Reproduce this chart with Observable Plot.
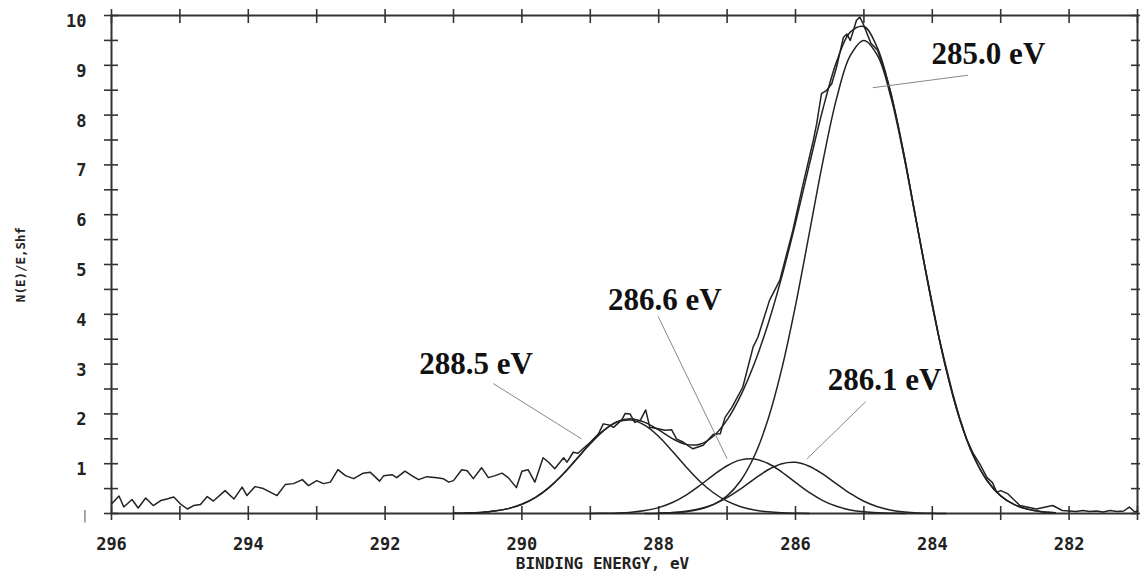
<!DOCTYPE html>
<html><head><meta charset="utf-8">
<script src="https://cdn.jsdelivr.net/npm/d3@7"></script>
<script src="https://cdn.jsdelivr.net/npm/@observablehq/plot@0.6"></script>
<style>
html,body{margin:0;padding:0;background:#fff;}
</style>
</head><body><div id="chart"></div>
<script>
// Measured spectrum (binding energy, eV ; intensity)
const spectrumE = [296.00,295.89,295.82,295.70,295.61,295.50,295.39,295.28,295.19,295.09,294.99,294.89,294.80,294.70,294.60,294.51,294.34,294.21,294.09,294.02,293.90,293.78,293.58,293.46,293.34,293.21,293.12,293.00,292.90,292.80,292.69,292.58,292.46,292.32,292.22,292.08,292.02,291.90,291.83,291.71,291.61,291.51,291.39,291.24,291.15,291.07,291.00,290.88,290.80,290.71,290.59,290.49,290.39,290.29,290.20,290.08,290.00,289.91,289.81,289.69,289.61,289.52,289.39,289.34,289.25,289.18,289.00,288.88,288.81,288.71,288.66,288.54,288.49,288.42,288.35,288.27,288.19,288.13,288.01,287.91,287.81,287.74,287.64,287.50,287.35,287.20,287.10,287.03,286.93,286.77,286.62,286.55,286.38,286.23,286.04,285.90,285.74,285.69,285.62,285.55,285.47,285.40,285.30,285.25,285.20,285.16,285.11,285.06,285.01,284.90,284.80,284.70,284.60,284.50,284.40,284.30,284.20,284.10,284.00,283.90,283.80,283.70,283.60,283.50,283.40,283.30,283.20,283.12,283.06,283.00,282.90,282.72,282.48,282.24,282.10,282.00,281.90,281.80,281.70,281.60,281.50,281.40,281.30,281.20,281.12,281.04,281.00];
const spectrumY = [0.19,0.35,0.13,0.28,0.11,0.31,0.16,0.26,0.29,0.33,0.19,0.09,0.16,0.18,0.34,0.25,0.46,0.29,0.53,0.36,0.54,0.50,0.36,0.58,0.60,0.68,0.56,0.66,0.60,0.63,0.88,0.76,0.70,0.81,0.83,0.65,0.76,0.78,0.72,0.85,0.76,0.68,0.74,0.72,0.70,0.63,0.66,0.88,0.86,0.70,0.92,0.72,0.76,0.81,0.72,0.52,0.85,0.88,0.63,1.12,1.03,0.90,1.12,1.03,1.23,1.21,1.43,1.60,1.80,1.77,1.73,1.88,2.01,2.00,1.83,1.87,2.08,1.73,1.70,1.67,1.68,1.50,1.43,1.30,1.37,1.59,1.60,1.93,2.13,2.54,3.34,3.54,4.28,4.68,5.68,6.55,7.49,7.83,8.43,8.49,8.63,8.96,9.56,9.63,9.50,9.67,9.90,9.97,9.83,9.45,9.30,8.90,8.42,7.80,7.12,6.35,5.62,4.90,4.22,3.52,2.95,2.40,1.92,1.50,1.20,0.98,0.72,0.62,0.43,0.46,0.40,0.16,0.09,0.16,0.06,0.05,0.04,0.06,0.04,0.05,0.03,0.06,0.04,0.05,0.13,0.03,0.05];

// Fitted curves sampled on a common energy grid
const fitE = [291.0,290.8,290.6,290.4,290.2,290.0,289.8,289.6,289.4,289.2,289.0,288.8,288.6,288.4,288.2,288.0,287.8,287.6,287.4,287.2,287.0,286.8,286.6,286.4,286.2,286.0,285.8,285.6,285.4,285.2,285.0,284.8,284.6,284.4,284.2,284.0,283.8,283.6,283.4,283.2,283.0,282.8,282.6,282.4,282.2];
const peak2885 = [0.004,0.009,0.022,0.048,0.098,0.185,0.324,0.525,0.787,1.093,1.404,1.670,1.840,1.875,1.770,1.547,1.251,0.936,0.649,0.417,0.247,0.136,0.069,0.033,0.014,0.006,0.002,null,null,null,null,null,null,null,null,null,null,null,null,null,null,null,null,null,null];
const peak2866 = [null,null,null,null,null,null,null,null,null,null,0.001,0.004,0.010,0.025,0.058,0.118,0.220,0.370,0.562,0.772,0.959,1.077,1.093,1.004,0.833,0.625,0.424,0.260,0.144,0.072,0.033,0.013,0.005,0.002,null,null,null,null,null,null,null,null,null,null,null];
const peak2861 = [null,null,null,null,null,null,null,null,null,null,null,null,null,null,0.002,0.007,0.019,0.045,0.096,0.184,0.318,0.496,0.695,0.878,1.000,1.027,0.950,0.791,0.595,0.402,0.245,0.135,0.067,0.030,0.012,0.004,0.001,null,null,null,null,null,null,null,null];
const peak2850 = [null,null,null,null,null,null,null,null,null,null,null,null,null,null,null,0.006,0.015,0.037,0.084,0.178,0.355,0.663,1.159,1.897,2.909,4.176,5.615,7.067,8.330,9.193,9.500,9.193,8.330,7.067,5.615,4.176,2.909,1.897,1.159,0.663,0.355,0.178,0.084,0.037,0.015];
const envelope = [0.004,0.009,0.022,0.048,0.098,0.185,0.324,0.525,0.787,1.093,1.405,1.674,1.850,1.900,1.830,1.678,1.505,1.388,1.391,1.551,1.879,2.372,3.016,3.812,4.756,5.834,6.991,8.118,9.069,9.667,9.778,9.341,8.402,7.099,5.627,4.180,2.910,1.897,1.159,0.663,0.355,0.178,0.084,0.037,0.015];

// Axis ticks and labels
const xMinorTicks = [296,295,294,293,292,291,290,289,288,287,286,285,284,283,282,281];
const xTickLabels = [296,294,292,290,288,286,284,282];
const yMinorTicks = [0,0.5,1,1.5,2,2.5,3,3.5,4,4.5,5,5.5,6,6.5,7,7.5,8,8.5,9,9.5,10];
const yTickLabels = [1,2,3,4,5,6,7,8,9,10];
const yZeroLabel = [0];

// Peak annotations
const annText = ["285.0 eV","286.6 eV","288.5 eV","286.1 eV"];
const annE = [284.01,288.74,291.50,285.53];
const annY = [9.23,4.28,3.01,2.67];
const leadFromE = [283.48,288.01,290.42,284.97];
const leadFromY = [8.80,3.96,2.61,2.25];
const leadToE = [284.87,287.00,289.13,285.83];
const leadToY = [8.55,1.10,1.50,1.10];

const spectrum = spectrumE.map((e,i)=>({e, y: spectrumY[i]}));
const mk = arr => fitE.map((e,i)=>({e, y: arr[i]}));
const comps = [peak2885, peak2866, peak2861, peak2850].map(mk);
const env = mk(envelope);
const ann = annText.map((t,i)=>({t, e: annE[i], y: annY[i]}));
const leads = leadFromE.map((e,i)=>({e1: e, y1: leadFromY[i], e2: leadToE[i], y2: leadToY[i]}));

const monoFont = "'DejaVu Sans Mono', monospace";
const serifFont = "'Liberation Serif', 'Times New Roman', serif";
const ink = "#222";

const plot = Plot.plot({
  width: 1140,
  height: 579,
  marginLeft: 111,
  marginRight: 3,
  marginTop: 15,
  marginBottom: 66,
  style: {background: "#fff", fontFamily: monoFont},
  x: {type: "linear", domain: [296, 281]},
  y: {type: "linear", domain: [0, 10]},
  marks: [
    // ticks crossing the frame on all sides
    Plot.axisX(xMinorTicks, {anchor: "bottom", tickSize: 14, dy: -7, tickFormat: () => "", label: null, stroke: "#333", strokeWidth: 1.6}),
    Plot.axisX(xMinorTicks, {anchor: "top", tickSize: 14, dy: 7, tickFormat: () => "", label: null, stroke: "#333", strokeWidth: 1.6}),
    Plot.axisY(yMinorTicks, {anchor: "left", tickSize: 14, dx: 7, tickFormat: () => "", label: null, stroke: "#333", strokeWidth: 1.6}),
    Plot.axisY(yMinorTicks, {anchor: "right", tickSize: 14, dx: -7, tickFormat: () => "", label: null, stroke: "#333", strokeWidth: 1.6}),
    // tick labels
    Plot.axisX(xTickLabels, {anchor: "bottom", tickSize: 0, tickPadding: 24, label: null, fontSize: 17, fontWeight: "bold", fill: ink, tickFormat: d => String(d)}),
    Plot.axisY(yTickLabels, {anchor: "left", tickSize: 0, tickPadding: 25, dy: 6, label: null, fontSize: 17, fontWeight: "bold", fill: ink, tickFormat: d => String(d)}),
    Plot.axisY(yZeroLabel, {anchor: "left", tickSize: 0, tickPadding: 23, dy: 3, label: null, fontSize: 12, fontWeight: "normal", fill: "#555", tickFormat: () => "|"}),
    Plot.frame({stroke: "#333", strokeWidth: 2}),
    // axis titles
    Plot.text(["BINDING ENERGY, eV"], {frameAnchor: "bottom", dy: 55, dx: -22, fontSize: 16, fontWeight: "bold", fill: ink, fontFamily: monoFont}),
    Plot.text(["N(E)/E,Shf"], {frameAnchor: "left", textAnchor: "middle", dx: -91, rotate: -90, fontSize: 12.5, fontWeight: "bold", fill: ink, fontFamily: monoFont}),
    // fitted components
    ...comps.map(c => Plot.line(c, {x: "e", y: "y", curve: "catmull-rom", stroke: ink, strokeWidth: 1.5})),
    // envelope
    Plot.line(env, {x: "e", y: "y", curve: "catmull-rom", stroke: ink, strokeWidth: 1.5}),
    // measured spectrum
    Plot.line(spectrum, {x: "e", y: "y", stroke: ink, strokeWidth: 1.5}),
    // leader lines
    Plot.link(leads, {x1: "e1", y1: "y1", x2: "e2", y2: "y2", stroke: "#888", strokeWidth: 1}),
    // annotations
    Plot.text(ann, {x: "e", y: "y", text: "t", textAnchor: "start", fontFamily: serifFont, fontWeight: "bold", fontSize: 31, fill: "#111"})
  ]
});
document.getElementById("chart").appendChild(plot);
</script>
</body></html>
